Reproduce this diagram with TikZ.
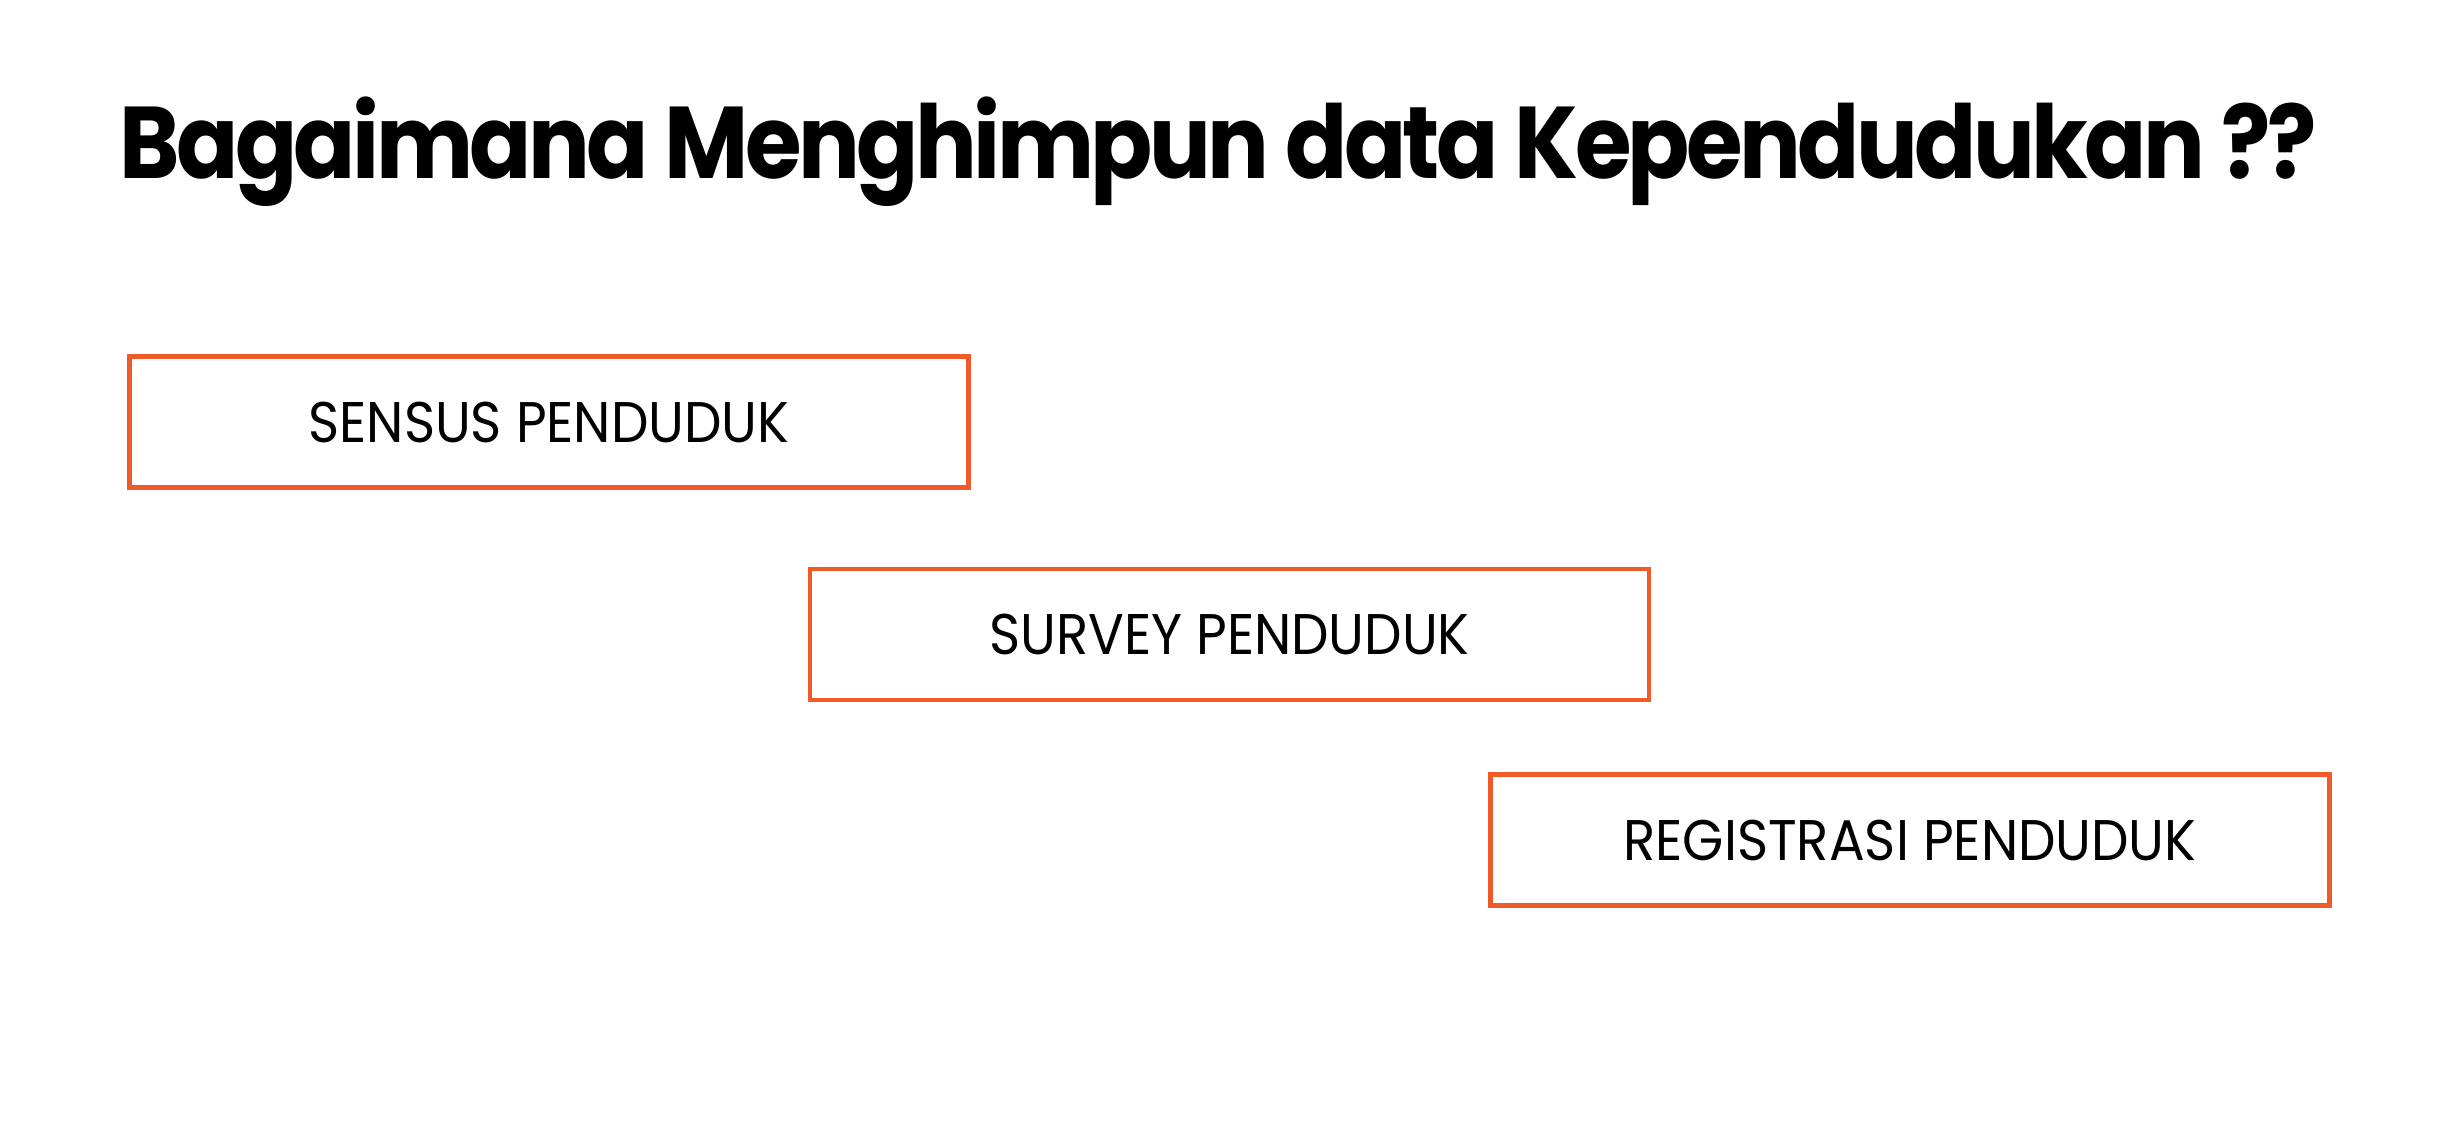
\documentclass[tikz,border=0pt]{standalone}
\usepackage{fontspec}
\setmainfont{Poppins}
\newfontfamily\headfont[FakeStretch=0.9, LetterSpace=-3.5]{Poppins}
\newfontfamily\boxfont[FakeStretch=0.925]{Poppins}
\usepackage{xcolor}
\usepackage{tikz}
\definecolor{frame}{HTML}{F05A28}

\begin{document}
\begin{tikzpicture}[
  x=1cm, y=1cm,
  title/.style={font=\headfont\fontsize{29}{34}\selectfont\bfseries, inner sep=0pt},
  box/.style={draw=frame, line width=1.4pt, fill=white, align=center, inner sep=0pt,
    minimum width=8.39cm, minimum height=1.31cm, font=\boxfont\fontsize{16.3}{19}\selectfont}
]
\useasboundingbox (0,0) rectangle (24.37,-11.26);
\node[title] (head) at (12.18,-1.52) {Bagaimana Menghimpun data Kependudukan ??};
\node[box] (sensus) at (5.49,-4.22) {SENSUS PENDUDUK};
\node[box] (survey) at (12.295,-6.345) {SURVEY PENDUDUK};
\node[box] (registrasi) at (19.10,-8.40) {REGISTRASI PENDUDUK};
\end{tikzpicture}
\end{document}
